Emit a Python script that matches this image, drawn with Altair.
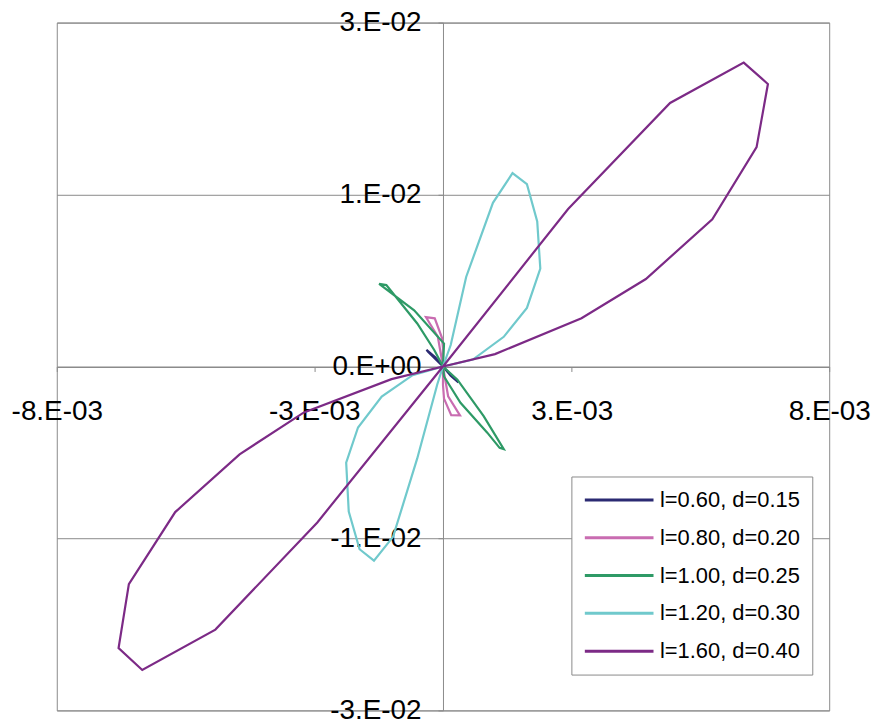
import altair as alt
import pandas as pd

# ---- series (legend order) ----
series_names = ["l=0.60, d=0.15", "l=0.80, d=0.20", "l=1.00, d=0.25", "l=1.20, d=0.30", "l=1.60, d=0.40"]
series_colors = ["#2b2a72", "#c96cb1", "#2e9a66", "#70c9cc", "#7c2a86"]

# l=0.60, d=0.15
x_060 = [0.0, -0.00015, -0.00032, -0.00029, 0.0, 0.00015, 0.00030, 0.00027, 0.0]
y_060 = [0.0, 0.00080, 0.00145, 0.00128, 0.0, -0.00080, -0.00138, -0.00125, 0.0]

# l=0.80, d=0.20
x_080 = [0.0, 0.0, -0.00002, -0.00016, -0.00033, -0.00010, 0.0, 0.0, 0.00002, 0.00016, 0.00033, 0.00010, 0.0]
y_080 = [0.0, 0.00160, 0.00250, 0.00420, 0.00430, 0.00260, 0.0, -0.00160, -0.00280, -0.00425, -0.00427, -0.00260, 0.0]

# l=1.00, d=0.25
x_100 = [0.0, 0.00002, -0.00056, -0.00124, -0.00110, -0.00050, -0.00017, 0.0,
         0.00028, 0.00079, 0.00118, 0.00110, 0.00086, 0.00034, 0.00002, 0.0]
y_100 = [0.0, 0.00200, 0.00490, 0.00721, 0.00710, 0.00375, 0.00144, 0.0,
         -0.00115, -0.00433, -0.00721, -0.00710, -0.00577, -0.00317, -0.00087, 0.0]

# l=1.20, d=0.30
x_120 = [0.0, 0.00058, 0.00118, 0.00163, 0.00189, 0.00183, 0.00163, 0.00135, 0.00097, 0.00045, 0.00015, 0.0,
         -0.00011, -0.00050, -0.00097, -0.00134, -0.00162, -0.00183, -0.00188, -0.00165, -0.00119, -0.00059, 0.0]
y_120 = [0.0, 0.00061, 0.00259, 0.00511, 0.00853, 0.01266, 0.01590, 0.01687, 0.01428, 0.00781, 0.00187, 0.0,
         -0.00155, -0.00802, -0.01486, -0.01694, -0.01594, -0.01266, -0.00838, -0.00532, -0.00263, -0.00076, 0.0]

# l=1.60, d=0.40
x_160 = [0.0, 0.00101, 0.00269, 0.00394, 0.00523, 0.00609, 0.00631, 0.00584, 0.00441, 0.00243, 0.0,
         -0.00244, -0.00442, -0.00584, -0.00630, -0.00610, -0.00520, -0.00395, -0.00270, -0.00100, 0.0]
y_160 = [0.0, 0.00108, 0.00421, 0.00763, 0.01284, 0.01914, 0.02464, 0.02651, 0.02299, 0.01374, 0.0,
         -0.01360, -0.02295, -0.02647, -0.02457, -0.01899, -0.01270, -0.00766, -0.00400, -0.00110, 0.0]

series_x = [x_060, x_080, x_100, x_120, x_160]
series_y = [y_060, y_080, y_100, y_120, y_160]

# ---- axis ticks ----
x_tick_values = [-0.0075, -0.0025, 0.0025, 0.0075]
x_tick_labels = ["-8.E-03", "-3.E-03", "3.E-03", "8.E-03"]
y_tick_values = [-0.03, -0.015, 0.0, 0.015, 0.03]
y_tick_labels = ["-3.E-02", "-1.E-02", "0.E+00", "1.E-02", "3.E-02"]


def label_expr(values, labels):
    expr = "''"
    for v, lab in reversed(list(zip(values, labels))):
        expr = f"abs(datum.value - ({v})) < 1e-9 ? '{lab}' : {expr}"
    return expr


rows = []
for name, xs, ys in zip(series_names, series_x, series_y):
    for i, (xv, yv) in enumerate(zip(xs, ys)):
        rows.append({"series": name, "idx": i, "x": xv, "y": yv})
df = pd.DataFrame(rows)

W, H = 776, 691
FONT = "Liberation Sans, Arial, sans-serif"
GRAY = "#8a8a8a"

chart = alt.Chart(df).mark_line(strokeWidth=2.2).encode(
    x=alt.X(
        "x:Q",
        scale=alt.Scale(domain=[-0.0075, 0.0075], nice=False, zero=False),
        axis=alt.Axis(
            title=None, values=x_tick_values, labelExpr=label_expr(x_tick_values, x_tick_labels),
            offset=-H / 2, grid=False, domainColor=GRAY, tickColor=GRAY, tickSize=5,
            labelFont=FONT, labelFontSize=28, labelColor="black", labelPadding=26,
            labelFlush=False, labelOverlap=False,
        ),
    ),
    y=alt.Y(
        "y:Q",
        scale=alt.Scale(domain=[-0.03, 0.03], nice=False, zero=False),
        axis=alt.Axis(
            title=None, values=y_tick_values, labelExpr=label_expr(y_tick_values, y_tick_labels),
            offset=-W / 2, grid=True, gridColor=GRAY, gridWidth=1, domainColor=GRAY,
            tickColor=GRAY, tickSize=5, labelFont=FONT, labelFontSize=28, labelColor="black",
            labelPadding=17, labelFlush=False, labelOverlap=False,
        ),
    ),
    color=alt.Color(
        "series:N",
        scale=alt.Scale(domain=series_names, range=series_colors),
        legend=alt.Legend(
            title=None, orient="none", legendX=517, legendY=456,
            symbolType="M-1,0L5.9,0", symbolSize=400, symbolStrokeWidth=3,
            labelFont=FONT, labelFontSize=22, labelColor="black",
            padding=12, rowPadding=15, fillColor="white", strokeColor=GRAY,
            labelOffset=54,
        ),
    ),
    order=alt.Order("idx:Q"),
).properties(
    width=W, height=H,
    padding={"left": 49, "top": 13, "right": 43, "bottom": 14},
    autosize=alt.AutoSizeParams(type="none"),
).configure_view(stroke=GRAY, strokeWidth=1)

chart.save("out.html", embed_options={"renderer": "svg", "actions": False})
